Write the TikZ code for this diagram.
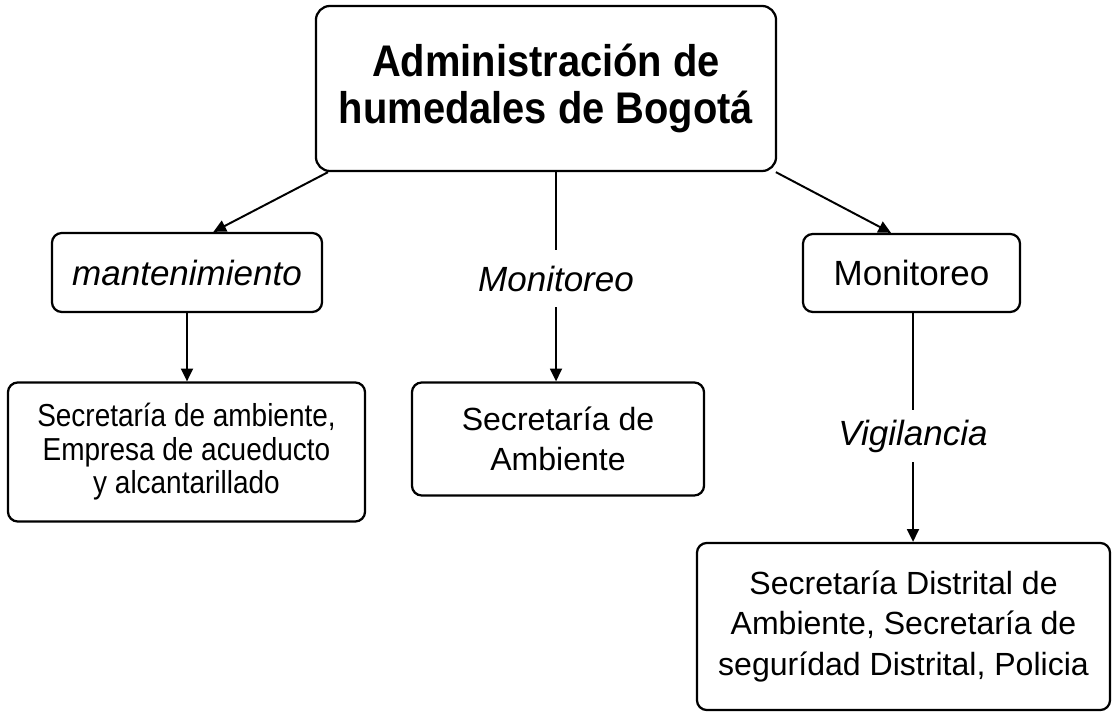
\documentclass[tikz,border=0pt]{standalone}
\usepackage{fontspec}
\setmainfont{Liberation Sans}
\newfontfamily\titlefont[FakeStretch=0.9]{Liberation Sans}
\newfontfamily\narrowfont[FakeStretch=0.88]{Liberation Sans}
\usetikzlibrary{arrows.meta}
\begin{document}
\begin{tikzpicture}[x=0.025cm,y=-0.025cm,
    box/.style={draw,line width=1.6pt,rounded corners=7pt,align=center,inner sep=0pt},
    lbl/.style={inner sep=0pt,font=\fontsize{24.9}{28}\selectfont\itshape},
    arr/.style={line width=1.4pt,-{Triangle[length=9pt,width=8.5pt]}}]
    \useasboundingbox (0,0) rectangle (1120,714);
    \node[box,rounded corners=10pt,minimum width=11.5cm,minimum height=4.125cm,
        font=\titlefont\fontsize{31.5}{33.4}\selectfont\bfseries] (root) at (546,88.5)
        {Administración de\\humedales de Bogotá};
    \node[box,minimum width=6.75cm,minimum height=1.975cm,
        font=\fontsize{24.9}{28}\selectfont\itshape] (mant) at (187,272.5) {mantenimiento};
    \node[lbl,minimum height=1.425cm] (monlbl) at (556,278.5) {Monitoreo};
    \node[box,minimum width=5.425cm,minimum height=1.95cm,
        font=\fontsize{24.9}{28}\selectfont] (mon) at (911.5,273) {Monitoreo};
    \node[box,minimum width=8.925cm,minimum height=3.475cm,
        font=\narrowfont\fontsize{22.6}{23.8}\selectfont] (secamb) at (186.5,452)
        {Secretaría de ambiente,\\Empresa de acueducto\\y alcantarillado};
    \node[box,minimum width=7.3cm,minimum height=2.825cm,
        font=\fontsize{22.8}{28.5}\selectfont] (midbox) at (558,439)
        {Secretaría de\\Ambiente};
    \node[lbl,minimum height=1.3cm] (vig) at (913,436) {Vigilancia};
    \node[box,minimum width=10.325cm,minimum height=4.175cm,
        font=\fontsize{22.8}{28.5}\selectfont] (secdis) at (903.5,626.5)
        {Secretaría Distrital de\\Ambiente, Secretaría de\\segurídad Distrital, Policia};
    % connectors
    \draw[arr] (root.-159.5) -- (mant.57);
    \draw[arr] (root.-20.3) -- (mon.117);
    \draw[line width=1.4pt] (monlbl) -- (monlbl |- root.south);
    \draw[arr] (monlbl) -- (monlbl |- midbox.north);
    \draw[arr] (mant) -- (mant |- secamb.north);
    \draw[line width=1.4pt] (vig) -- (vig |- mon.south);
    \draw[arr] (vig) -- (vig |- secdis.north);
\end{tikzpicture}
\end{document}
